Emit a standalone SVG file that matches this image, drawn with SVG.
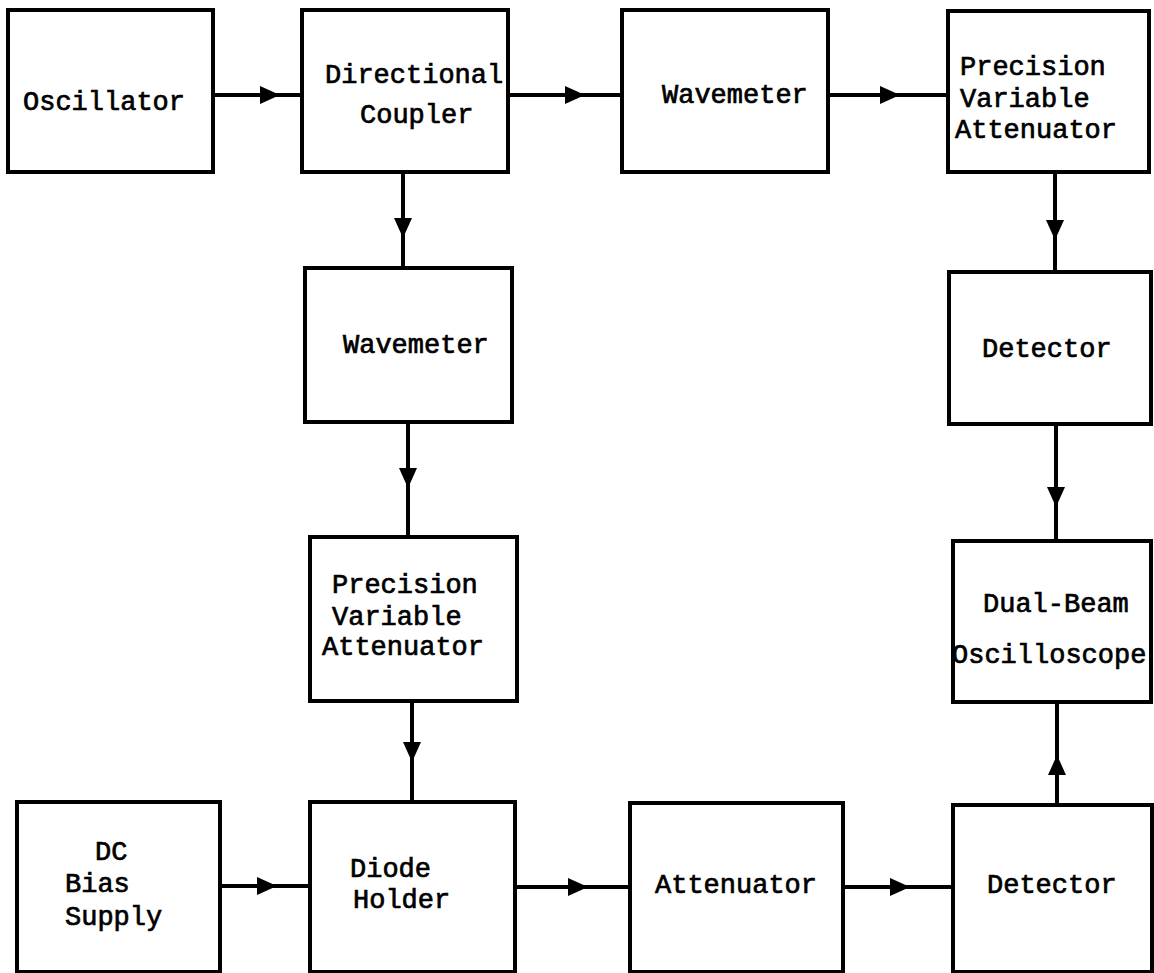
<svg xmlns="http://www.w3.org/2000/svg" width="1154" height="973" viewBox="0 0 1154 973">
  <style>
    .box { fill: #fff; stroke: #000; stroke-width: 4; }
    .lbl { font-family: "Liberation Mono", "DejaVu Sans Mono", monospace; font-size: 27px; font-weight: normal; fill: #000; stroke: #000; stroke-width: 0.7px; }
    .wire { fill: none; stroke: #000; stroke-width: 4; marker-mid: url(#arrow); }
  </style>
  <defs>
    <marker id="arrow" viewBox="0 0 20 18" refX="20" refY="9" markerWidth="20" markerHeight="18" markerUnits="userSpaceOnUse" orient="auto">
      <path d="M0,0 L20,9 L0,18 z" fill="#000"/>
    </marker>
  </defs>
  <rect width="1154" height="973" fill="#fff"/>

  <!-- signal path connectors, arrowhead sits at the middle vertex -->
  <g id="connectors">
    <path class="wire" d="M213,95 L280,95 L302,95"/>
    <path class="wire" d="M508,95 L585,95 L622,95"/>
    <path class="wire" d="M828,95 L900,95 L948,95"/>
    <path class="wire" d="M403,172 L403,238 L403,268"/>
    <path class="wire" d="M408,422 L408,488 L408,537"/>
    <path class="wire" d="M412,701 L412,762 L412,802"/>
    <path class="wire" d="M1055,172 L1055,240 L1055,272"/>
    <path class="wire" d="M1056,424 L1056,507 L1056,541"/>
    <path class="wire" d="M1057,805 L1057,755 L1057,702"/>
    <path class="wire" d="M220,886 L277,886 L310,886"/>
    <path class="wire" d="M515,887 L588,887 L630,887"/>
    <path class="wire" d="M843,887 L910,887 L953,887"/>
  </g>

  <g id="oscillator">
    <rect class="box" x="8" y="10" width="205" height="162"/>
    <text class="lbl" x="23" y="110">Oscillator</text>
  </g>
  <g id="directional-coupler">
    <rect class="box" x="302" y="10" width="206" height="162"/>
    <text class="lbl" x="325" y="83">Directional</text>
    <text class="lbl" x="360" y="123">Coupler</text>
  </g>
  <g id="wavemeter-1">
    <rect class="box" x="622" y="10" width="206" height="162"/>
    <text class="lbl" x="662" y="103">Wavemeter</text>
  </g>
  <g id="precision-attenuator-1">
    <rect class="box" x="948" y="11" width="201" height="161"/>
    <text class="lbl" x="960" y="75">Precision</text>
    <text class="lbl" x="960" y="107">Variable</text>
    <text class="lbl" x="955" y="138">Attenuator</text>
  </g>
  <g id="wavemeter-2">
    <rect class="box" x="305" y="268" width="207" height="154"/>
    <text class="lbl" x="343" y="353">Wavemeter</text>
  </g>
  <g id="detector-1">
    <rect class="box" x="949" y="272" width="202" height="152"/>
    <text class="lbl" x="982" y="357">Detector</text>
  </g>
  <g id="precision-attenuator-2">
    <rect class="box" x="310" y="537" width="207" height="164"/>
    <text class="lbl" x="332" y="593">Precision</text>
    <text class="lbl" x="332" y="625">Variable</text>
    <text class="lbl" x="322" y="655">Attenuator</text>
  </g>
  <g id="oscilloscope">
    <rect class="box" x="953" y="541" width="198" height="161"/>
    <text class="lbl" x="983" y="612">Dual-Beam</text>
    <text class="lbl" x="952" y="663">Oscilloscope</text>
  </g>
  <g id="dc-bias-supply">
    <rect class="box" x="17" y="802" width="203" height="170"/>
    <text class="lbl" x="95" y="860">DC</text>
    <text class="lbl" x="65" y="892">Bias</text>
    <text class="lbl" x="65" y="925">Supply</text>
  </g>
  <g id="diode-holder">
    <rect class="box" x="310" y="802" width="205" height="170"/>
    <text class="lbl" x="350" y="877">Diode</text>
    <text class="lbl" x="353" y="908">Holder</text>
  </g>
  <g id="attenuator">
    <rect class="box" x="630" y="803" width="213" height="169"/>
    <text class="lbl" x="655" y="893">Attenuator</text>
  </g>
  <g id="detector-2">
    <rect class="box" x="953" y="805" width="199" height="167"/>
    <text class="lbl" x="987" y="893">Detector</text>
  </g>
</svg>
